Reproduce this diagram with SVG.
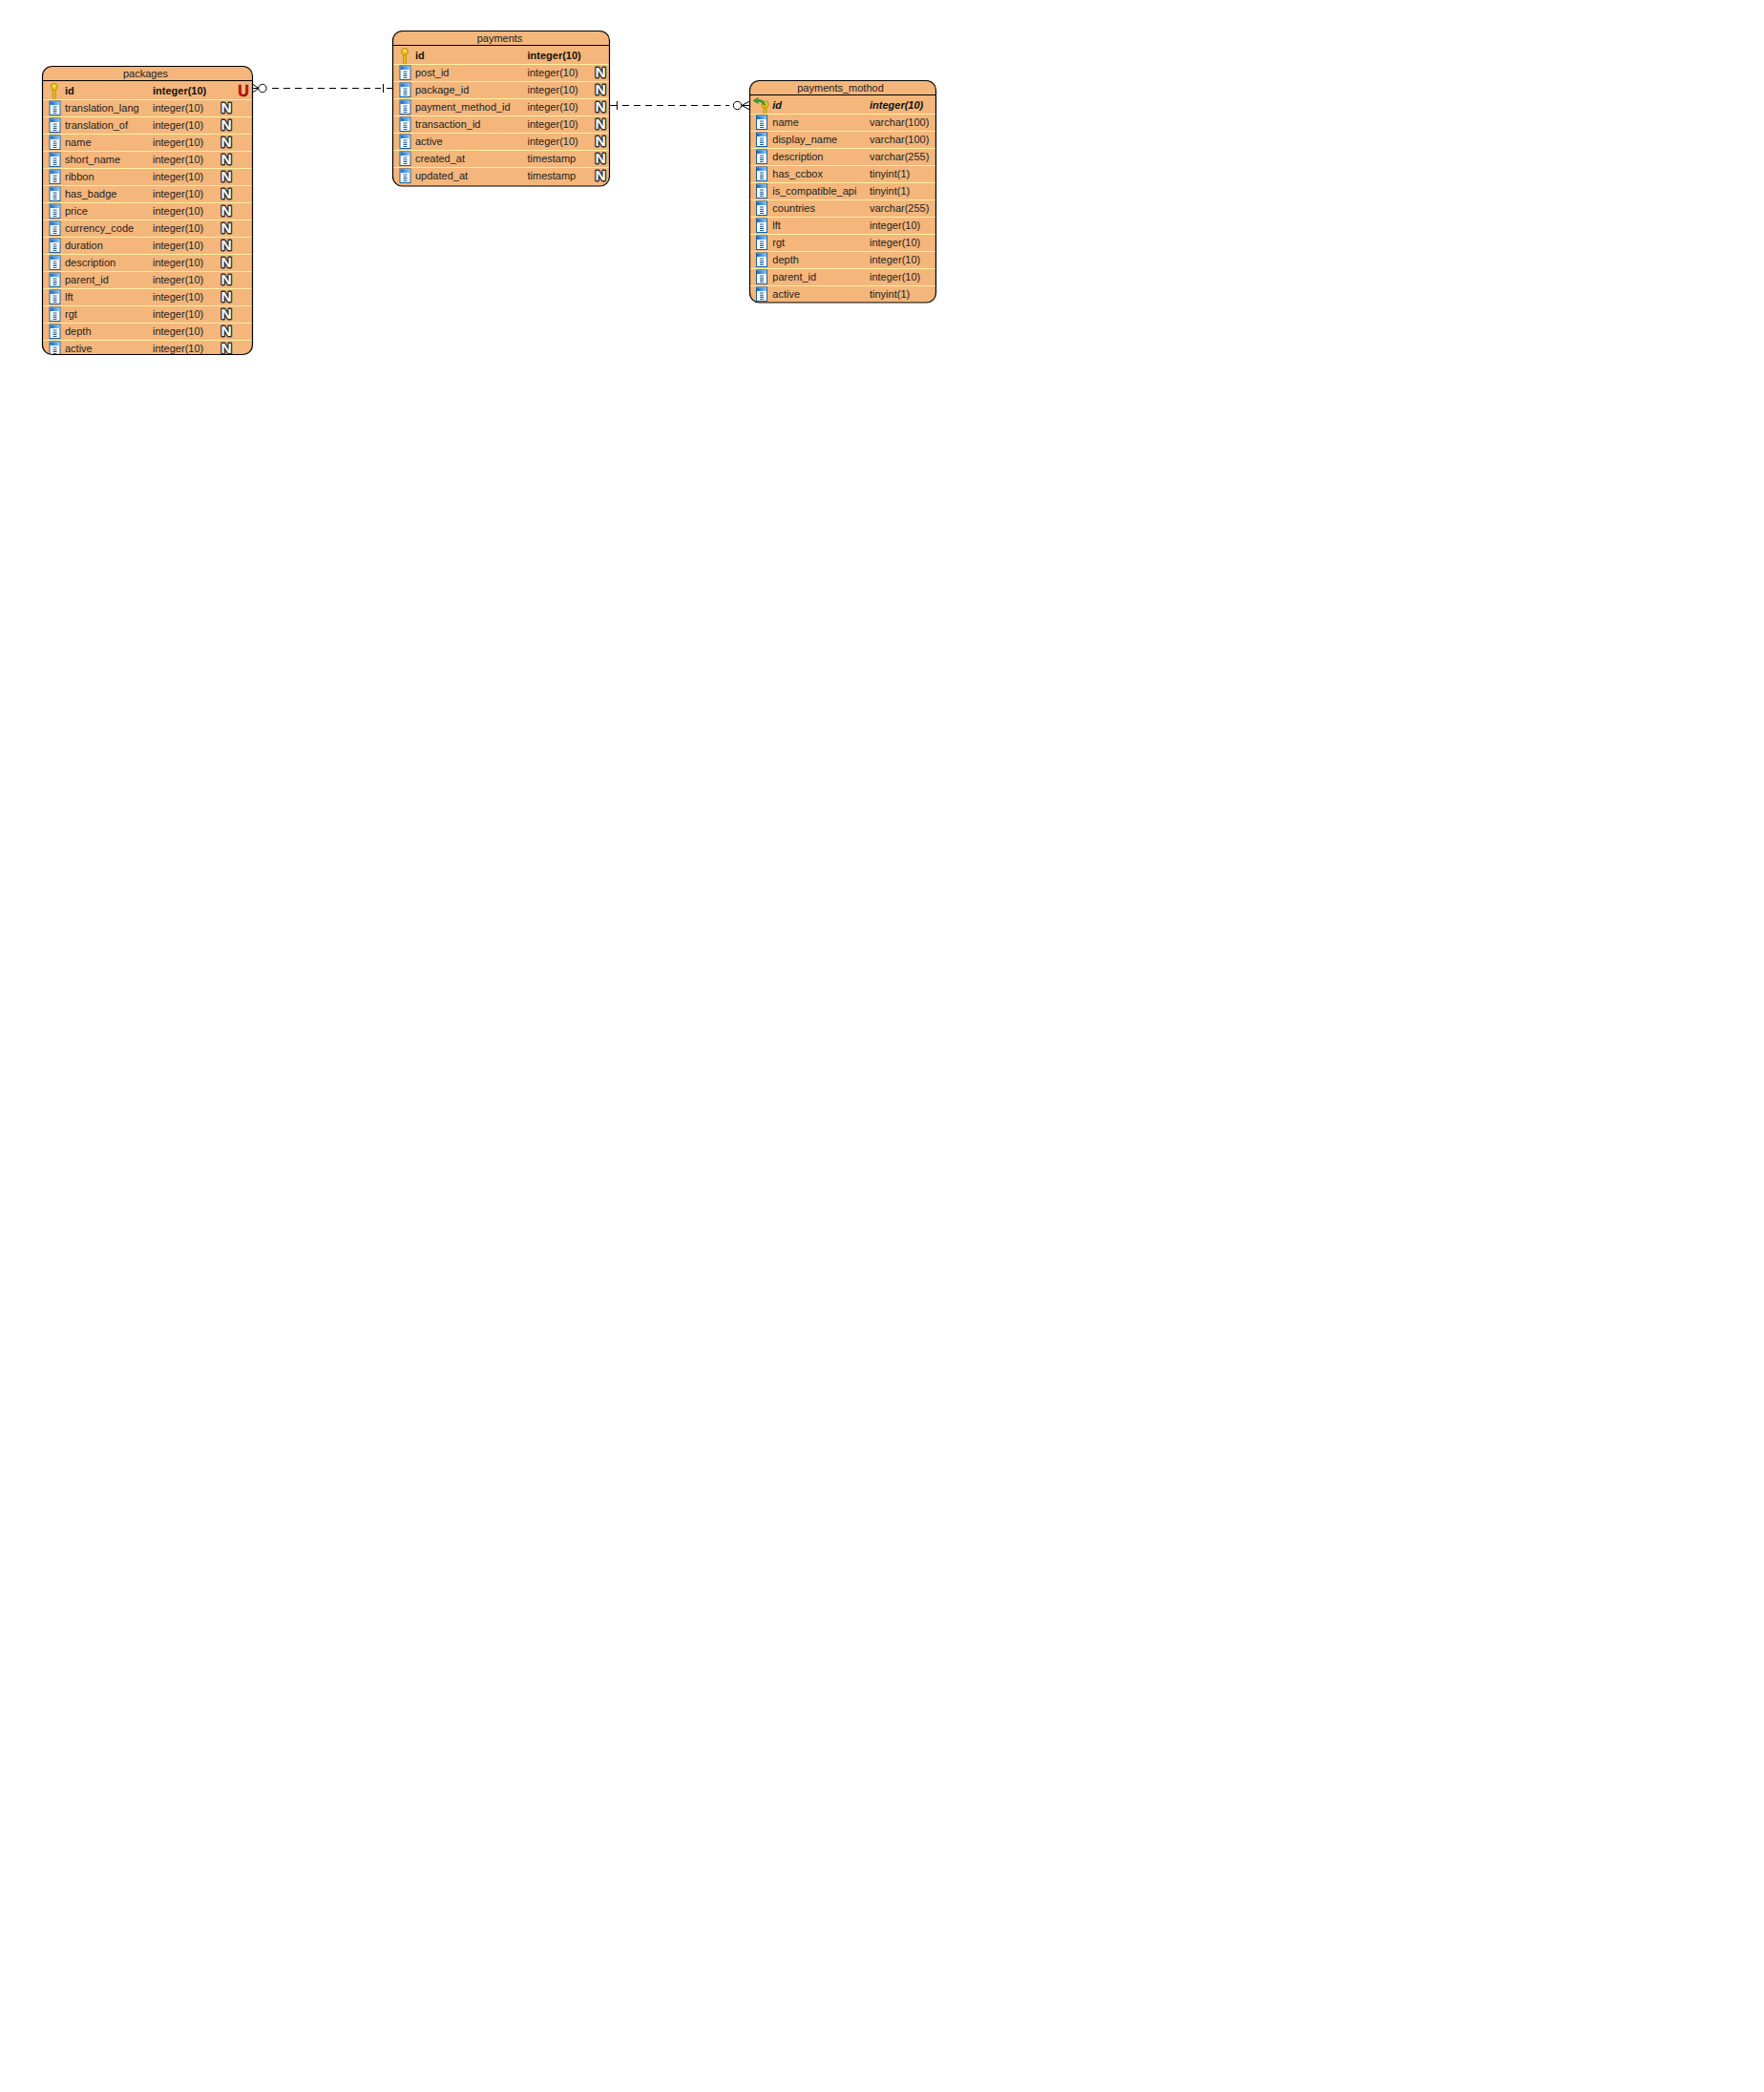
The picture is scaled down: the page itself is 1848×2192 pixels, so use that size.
<svg xmlns="http://www.w3.org/2000/svg" width="1848" height="2192" viewBox="0 0 1848 2192">
<style>
text{font-family:"Liberation Sans",Arial,sans-serif;font-size:11px;fill:#222}
.title{text-anchor:middle;fill:#222}
.b{font-weight:bold;fill:#111}
.bi{font-weight:bold;font-style:italic;fill:#111}
.N{font-size:15.5px;font-weight:bold;text-anchor:middle;fill:#fff;stroke:#333;stroke-width:2.8px;paint-order:stroke;stroke-linejoin:round}
.U{font-size:16px;font-weight:bold;text-anchor:middle;fill:#c01010;stroke:#8a0a0a;stroke-width:.5px}
.box{fill:none;stroke:#000;stroke-width:1.2}
.bg{fill:#f4b67b}
.hd{stroke:#000;stroke-width:1}
.sep{stroke:#fff0a0;stroke-width:1}
.conn{fill:none;stroke:#000;stroke-width:1}
.dash{stroke-dasharray:7 5}
.circ{fill:#fff;stroke:#000;stroke-width:1}
</style>
<defs>
<linearGradient id="bar" x1="0" y1="0" x2="1" y2="0"><stop offset="0" stop-color="#1568c8"/><stop offset="1" stop-color="#8cc8f8"/></linearGradient>
<g id="col">
<rect x=".5" y=".5" width="11" height="14.5" fill="#fff" stroke="#1b5e9e"/>
<rect x="1" y="1" width="10" height="3.5" fill="url(#bar)"/>
<path d="M4 6.5h4M4 8.7h4M4 10.9h4M4 13h4" stroke="#1b5e9e" stroke-width="1.1"/>
</g>
<g id="key">
<path d="M-1.4 6v9.5l1.4 1.5 1.4-1.5V6" fill="#f2c414" stroke="#a88a10" stroke-width=".9"/>
<circle cx="0" cy="3.4" r="3.5" fill="#f2c414" stroke="#a88a10" stroke-width=".9"/>
<circle cx="0" cy="2.5" r="1" fill="#fff6c0"/>
</g>
<clipPath id="cp1"><rect x="44.5" y="69.5" width="220" height="302" rx="10"/></clipPath>
<clipPath id="cp2"><rect x="411.5" y="32.5" width="227" height="162.5" rx="10"/></clipPath>
<clipPath id="cp3"><rect x="785.5" y="84.5" width="195" height="232.5" rx="10"/></clipPath>
</defs>

<g id="connectors">
<path class="conn dash" d="M285 92.500H399"/>
<path class="conn" d="M405 92.500H411.5M401.500 88V97"/>
<path class="conn" d="M264.5 88L271 92.500L264.5 97M264.5 92.500H271"/>
<circle class="circ" cx="275" cy="92.500" r="4.200"/>
<path class="conn" d="M638.5 110.500H646M646.500 106V115"/>
<path class="conn dash" d="M652 110.500H764"/>
<path class="conn" d="M785.500 106L777 110.500L785.500 115M777 110.500H785.500"/>
<circle class="circ" cx="772.500" cy="110.500" r="4.200"/>
</g>

<g id="packages">
<rect class="bg" x="44.5" y="69.5" width="220" height="302" rx="10"/>
<g clip-path="url(#cp1)">
<line class="hd" x1="44.5" x2="264.5" y1="84.500" y2="84.500"/>
<use href="#key" x="56.700" y="87.500"/>
<text class="b" x="68" y="99">id</text>
<text class="b" x="160" y="99">integer(10)</text>
<text class="U" x="255" y="100.800">U</text>
<g transform="translate(44.5,104.5)"><line class="sep" x2="220"/><use href="#col" x="7" y="1"/><text x="23.5" y="12.700">translation_lang</text><text x="115.5" y="12.700">integer(10)</text><text class="N" x="192.500" y="13.300">N</text></g>
<g transform="translate(44.5,122.5)"><line class="sep" x2="220"/><use href="#col" x="7" y="1"/><text x="23.5" y="12.700">translation_of</text><text x="115.5" y="12.700">integer(10)</text><text class="N" x="192.500" y="13.300">N</text></g>
<g transform="translate(44.5,140.5)"><line class="sep" x2="220"/><use href="#col" x="7" y="1"/><text x="23.5" y="12.700">name</text><text x="115.5" y="12.700">integer(10)</text><text class="N" x="192.500" y="13.300">N</text></g>
<g transform="translate(44.5,158.5)"><line class="sep" x2="220"/><use href="#col" x="7" y="1"/><text x="23.5" y="12.700">short_name</text><text x="115.5" y="12.700">integer(10)</text><text class="N" x="192.500" y="13.300">N</text></g>
<g transform="translate(44.5,176.5)"><line class="sep" x2="220"/><use href="#col" x="7" y="1"/><text x="23.5" y="12.700">ribbon</text><text x="115.5" y="12.700">integer(10)</text><text class="N" x="192.500" y="13.300">N</text></g>
<g transform="translate(44.5,194.5)"><line class="sep" x2="220"/><use href="#col" x="7" y="1"/><text x="23.5" y="12.700">has_badge</text><text x="115.5" y="12.700">integer(10)</text><text class="N" x="192.500" y="13.300">N</text></g>
<g transform="translate(44.5,212.5)"><line class="sep" x2="220"/><use href="#col" x="7" y="1"/><text x="23.5" y="12.700">price</text><text x="115.5" y="12.700">integer(10)</text><text class="N" x="192.500" y="13.300">N</text></g>
<g transform="translate(44.5,230.5)"><line class="sep" x2="220"/><use href="#col" x="7" y="1"/><text x="23.5" y="12.700">currency_code</text><text x="115.5" y="12.700">integer(10)</text><text class="N" x="192.500" y="13.300">N</text></g>
<g transform="translate(44.5,248.5)"><line class="sep" x2="220"/><use href="#col" x="7" y="1"/><text x="23.5" y="12.700">duration</text><text x="115.5" y="12.700">integer(10)</text><text class="N" x="192.500" y="13.300">N</text></g>
<g transform="translate(44.5,266.5)"><line class="sep" x2="220"/><use href="#col" x="7" y="1"/><text x="23.5" y="12.700">description</text><text x="115.5" y="12.700">integer(10)</text><text class="N" x="192.500" y="13.300">N</text></g>
<g transform="translate(44.5,284.5)"><line class="sep" x2="220"/><use href="#col" x="7" y="1"/><text x="23.5" y="12.700">parent_id</text><text x="115.5" y="12.700">integer(10)</text><text class="N" x="192.500" y="13.300">N</text></g>
<g transform="translate(44.5,302.5)"><line class="sep" x2="220"/><use href="#col" x="7" y="1"/><text x="23.5" y="12.700">lft</text><text x="115.5" y="12.700">integer(10)</text><text class="N" x="192.500" y="13.300">N</text></g>
<g transform="translate(44.5,320.5)"><line class="sep" x2="220"/><use href="#col" x="7" y="1"/><text x="23.5" y="12.700">rgt</text><text x="115.5" y="12.700">integer(10)</text><text class="N" x="192.500" y="13.300">N</text></g>
<g transform="translate(44.5,338.5)"><line class="sep" x2="220"/><use href="#col" x="7" y="1"/><text x="23.5" y="12.700">depth</text><text x="115.5" y="12.700">integer(10)</text><text class="N" x="192.500" y="13.300">N</text></g>
<g transform="translate(44.5,356.5)"><line class="sep" x2="220"/><use href="#col" x="7" y="1"/><text x="23.5" y="12.700">active</text><text x="115.5" y="12.700">integer(10)</text><text class="N" x="192.500" y="13.300">N</text></g>
</g>
<text class="title" x="152.500" y="81">packages</text>
<rect class="box" x="44.5" y="69.5" width="220" height="302" rx="10"/>
</g>

<g id="payments">
<rect class="bg" x="411.5" y="32.5" width="227" height="162.5" rx="10"/>
<g clip-path="url(#cp2)">
<line class="hd" x1="411.5" x2="638.5" y1="47.500" y2="47.500"/>
<use href="#key" x="424" y="50.500"/>
<text class="b" x="435" y="62">id</text>
<text class="b" x="552.500" y="62">integer(10)</text>
<g transform="translate(411.5,67.5)"><line class="sep" x2="227"/><use href="#col" x="7" y="1"/><text x="23.5" y="12.700">post_id</text><text x="141" y="12.700">integer(10)</text><text class="N" x="217.500" y="13.300">N</text></g>
<g transform="translate(411.5,85.5)"><line class="sep" x2="227"/><use href="#col" x="7" y="1"/><text x="23.5" y="12.700">package_id</text><text x="141" y="12.700">integer(10)</text><text class="N" x="217.500" y="13.300">N</text></g>
<g transform="translate(411.5,103.5)"><line class="sep" x2="227"/><use href="#col" x="7" y="1"/><text x="23.5" y="12.700">payment_method_id</text><text x="141" y="12.700">integer(10)</text><text class="N" x="217.500" y="13.300">N</text></g>
<g transform="translate(411.5,121.5)"><line class="sep" x2="227"/><use href="#col" x="7" y="1"/><text x="23.5" y="12.700">transaction_id</text><text x="141" y="12.700">integer(10)</text><text class="N" x="217.500" y="13.300">N</text></g>
<g transform="translate(411.5,139.5)"><line class="sep" x2="227"/><use href="#col" x="7" y="1"/><text x="23.5" y="12.700">active</text><text x="141" y="12.700">integer(10)</text><text class="N" x="217.500" y="13.300">N</text></g>
<g transform="translate(411.5,157.5)"><line class="sep" x2="227"/><use href="#col" x="7" y="1"/><text x="23.5" y="12.700">created_at</text><text x="141" y="12.700">timestamp</text><text class="N" x="217.500" y="13.300">N</text></g>
<g transform="translate(411.5,175.5)"><line class="sep" x2="227"/><use href="#col" x="7" y="1"/><text x="23.5" y="12.700">updated_at</text><text x="141" y="12.700">timestamp</text><text class="N" x="217.500" y="13.300">N</text></g>
</g>
<text class="title" x="523.500" y="44">payments</text>
<rect class="box" x="411.5" y="32.5" width="227" height="162.5" rx="10"/>
</g>

<g id="payments_mothod">
<rect class="bg" x="785.5" y="84.5" width="195" height="232.5" rx="10"/>
<g clip-path="url(#cp3)">
<line class="hd" x1="785.5" x2="980.5" y1="99.500" y2="99.500"/>
<use href="#key" x="801.500" y="106"/>
<path d="M802 110C801 105.500 797 104 793 104.500L794.500 102L789 105.500L794.500 108.500L793.500 106.500C796 106 799 107 800 110Z" fill="#2f9e3f" stroke="#1d7a2c" stroke-width=".5"/>
<text class="bi" x="809.300" y="114">id</text>
<text class="bi" x="911" y="114">integer(10)</text>
<g transform="translate(785.5,119.5)"><line class="sep" x2="195"/><use href="#col" x="6.500" y="1"/><text x="23.800" y="12.700">name</text><text x="125.500" y="12.700">varchar(100)</text></g>
<g transform="translate(785.5,137.5)"><line class="sep" x2="195"/><use href="#col" x="6.500" y="1"/><text x="23.800" y="12.700">display_name</text><text x="125.500" y="12.700">varchar(100)</text></g>
<g transform="translate(785.5,155.5)"><line class="sep" x2="195"/><use href="#col" x="6.500" y="1"/><text x="23.800" y="12.700">description</text><text x="125.500" y="12.700">varchar(255)</text></g>
<g transform="translate(785.5,173.5)"><line class="sep" x2="195"/><use href="#col" x="6.500" y="1"/><text x="23.800" y="12.700">has_ccbox</text><text x="125.500" y="12.700">tinyint(1)</text></g>
<g transform="translate(785.5,191.5)"><line class="sep" x2="195"/><use href="#col" x="6.500" y="1"/><text x="23.800" y="12.700">is_compatible_api</text><text x="125.500" y="12.700">tinyint(1)</text></g>
<g transform="translate(785.5,209.5)"><line class="sep" x2="195"/><use href="#col" x="6.500" y="1"/><text x="23.800" y="12.700">countries</text><text x="125.500" y="12.700">varchar(255)</text></g>
<g transform="translate(785.5,227.5)"><line class="sep" x2="195"/><use href="#col" x="6.500" y="1"/><text x="23.800" y="12.700">lft</text><text x="125.500" y="12.700">integer(10)</text></g>
<g transform="translate(785.5,245.5)"><line class="sep" x2="195"/><use href="#col" x="6.500" y="1"/><text x="23.800" y="12.700">rgt</text><text x="125.500" y="12.700">integer(10)</text></g>
<g transform="translate(785.5,263.5)"><line class="sep" x2="195"/><use href="#col" x="6.500" y="1"/><text x="23.800" y="12.700">depth</text><text x="125.500" y="12.700">integer(10)</text></g>
<g transform="translate(785.5,281.5)"><line class="sep" x2="195"/><use href="#col" x="6.500" y="1"/><text x="23.800" y="12.700">parent_id</text><text x="125.500" y="12.700">integer(10)</text></g>
<g transform="translate(785.5,299.5)"><line class="sep" x2="195"/><use href="#col" x="6.500" y="1"/><text x="23.800" y="12.700">active</text><text x="125.500" y="12.700">tinyint(1)</text></g>
</g>
<text class="title" x="880.500" y="96">payments_mothod</text>
<rect class="box" x="785.5" y="84.5" width="195" height="232.500" rx="10"/>
</g>
</svg>
